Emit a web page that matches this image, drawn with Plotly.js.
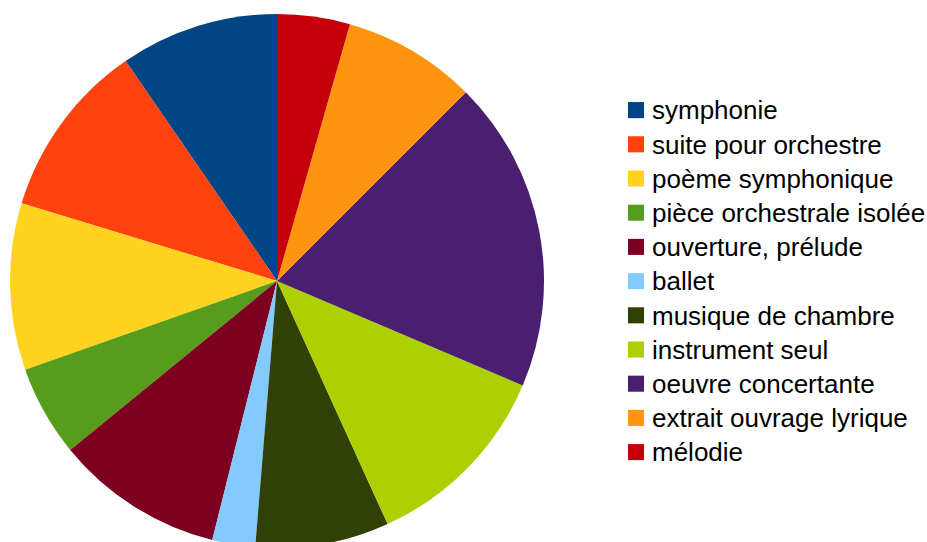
<!DOCTYPE html>
<html>
<head>
<meta charset="utf-8">
<script src="https://cdn.plot.ly/plotly-3.0.1.min.js"></script>
<style>
html, body { margin: 0; padding: 0; overflow: hidden; background: #fff; }
#chart { width: 927px; height: 562px; }
#chart .legend .traces text.legendtext { font-size: 26px !important; }
#chart .legend .traces path.legendpie { transform: translate(24px, 0px) scale(1.34) !important; }
#chart .legend, #chart .legend .scrollbox, #chart .legend g { clip-path: none !important; }
</style>
</head>
<body>
<div id="chart"></div>
<script>
const categories = [
  "symphonie",
  "suite pour orchestre",
  "poème symphonique",
  "pièce orchestrale isolée",
  "ouverture, prélude",
  "ballet",
  "musique de chambre",
  "instrument seul",
  "oeuvre concertante",
  "extrait ouvrage lyrique",
  "mélodie"
];
const shares = [9.6, 10.7, 10.1, 5.5, 10.2, 2.6, 8.1, 11.8, 18.9, 8.1, 4.4];
const colors = ["#004586", "#ff420e", "#ffd320", "#579d1c", "#7e0021", "#83caff",
                "#314004", "#aecf00", "#4b1f6f", "#ff950e", "#c5000b"];

const W = 927, H = 562;
const cx = 277, cy = 281, r = 267;
const total = shares.reduce((a, b) => a + b, 0);

const trace = {
  type: "pie",
  labels: categories,
  values: shares,
  sort: false,
  direction: "counterclockwise",
  rotation: -360 * shares[0] / total,
  textinfo: "none",
  hoverinfo: "label+percent",
  marker: { colors: colors, line: { width: 0 } },
  domain: {
    x: [(cx - r) / W, (cx + r) / W],
    y: [(H - (cy + r)) / H, (H - (cy - r)) / H]
  }
};

const layout = {
  width: W,
  height: H,
  margin: { l: 0, r: 0, t: 0, b: 0 },
  paper_bgcolor: "#ffffff",
  showlegend: true,
  legend: {
    x: 612 / W,
    xanchor: "left",
    y: 1 - 281.5 / H,
    yanchor: "middle",
    font: { family: "Liberation Sans, Arial, sans-serif", size: 24, color: "#000000" },
    bgcolor: "rgba(0,0,0,0)",
    borderwidth: 0
  }
};

Plotly.newPlot("chart", [trace], layout, { displayModeBar: false, staticPlot: true });
</script>
</body>
</html>
